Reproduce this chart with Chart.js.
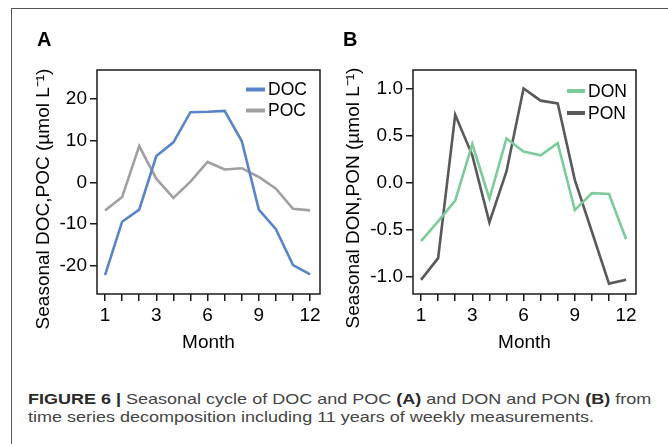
<!DOCTYPE html>
<html>
<head>
<meta charset="utf-8">
<script src="https://cdn.jsdelivr.net/npm/chart.js@4.4.1/dist/chart.umd.min.js"></script>
<style>
  html, body { margin:0; padding:0; background:#fff; }
  body { width:668px; height:444px; position:relative; overflow:hidden; font-family:"Liberation Sans", Arial, sans-serif; }
  .frame { position:absolute; left:11px; top:8px; width:670px; height:450px; border-top:1.5px solid #555; border-left:1.5px solid #555; }
  .cv { position:absolute; top:0; }
  #caption { position:absolute; left:28px; top:390px; font-size:15px; line-height:18px; color:#444; white-space:nowrap; transform:scaleX(1.2); transform-origin:0 0; }
  #caption b { color:#2a2a2a; }
</style>
</head>
<body>
<div class="frame"></div>
<canvas id="cA" class="cv" style="left:0px" width="334" height="370"></canvas>
<canvas id="cB" class="cv" style="left:334px" width="334" height="370"></canvas>
<div id="caption"><b>FIGURE 6 |</b> Seasonal cycle of DOC and POC <b>(A)</b> and DON and PON <b>(B)</b> from<br>time series decomposition including 11 years of weekly measurements.</div>
<script>
// ---- data ----
const positions = [0,1,2,3,4,5,6,7,8,9,10,11,12];
const tickLabels = ['1','','','3','','','6','','','9','','','12'];
const doc = [-22.2, -9.4, -6.5, 6.3, 9.6, 16.8, 16.9, 17.1, 9.9, -6.5, -11.2, -19.8, -22.0];
const poc = [-6.7, -3.5, 8.7, 0.9, -3.7, 0.2, 4.9, 3.1, 3.4, 1.3, -1.5, -6.3, -6.7];
const don = [-0.62, -0.41, -0.19, 0.41, -0.17, 0.47, 0.33, 0.29, 0.42, -0.29, -0.11, -0.12, -0.60];
const pon = [-1.03, -0.80, 0.72, 0.29, -0.42, 0.12, 1.0, 0.87, 0.84, 0.03, -0.52, -1.07, -1.03];
const yTicksA = [-20, -10, 0, 10, 20];
const yTicksB = [-1, -0.5, 0, 0.5, 1];

const FONT = '"Liberation Sans", Arial, sans-serif';
const INK = '#1a1a1a';

const pts = arr => arr.map((v, i) => ({x: positions[i], y: v}));

const framePlugin = {
  id: 'frameBox',
  afterDatasetsDraw(chart) {
    const {ctx, chartArea: {left, top, right, bottom}} = chart;
    ctx.save();
    ctx.strokeStyle = INK; ctx.lineWidth = 1.5;
    ctx.strokeRect(left, top, right - left, bottom - top);
    ctx.restore();
  }
};

const decoPlugin = {
  id: 'deco',
  afterDraw(chart, args, o) {
    const ctx = chart.ctx;
    ctx.save();
    ctx.fillStyle = '#000';
    ctx.font = 'bold 20px ' + FONT;
    ctx.textAlign = 'left'; ctx.textBaseline = 'middle';
    ctx.fillText(o.letter, o.letterX, o.letterY);
    ctx.font = '19px ' + FONT;
    ctx.translate(o.titleX, o.titleY);
    ctx.rotate(-Math.PI / 2);
    ctx.textAlign = 'center'; ctx.textBaseline = 'middle';
    ctx.fillStyle = '#000';
    ctx.fillText(o.title, 0, 0);
    ctx.restore();
    ctx.save();
    ctx.font = '17.5px ' + FONT;
    ctx.textBaseline = 'middle'; ctx.textAlign = 'left';
    chart.data.datasets.forEach((ds, i) => {
      const y = o.legY + i * o.legDy;
      ctx.strokeStyle = ds.borderColor; ctx.lineWidth = 4;
      ctx.beginPath(); ctx.moveTo(o.legX, y); ctx.lineTo(o.legX + o.legLen, y); ctx.stroke();
      ctx.fillStyle = '#000';
      ctx.fillText(ds.label, o.legX + o.legLen + 3, y + 1);
    });
    ctx.restore();
  }
};

function makeChart(id, sets, yTicks, ymin, ymax, fmt, yWidth, padRight, deco) {
  return new Chart(document.getElementById(id), {
    type: 'line',
    data: {
      datasets: sets.map(s => ({
        label: s.label, data: pts(s.data), borderColor: s.color,
        borderWidth: 2.6, pointRadius: 0, tension: 0, fill: false
      }))
    },
    options: {
      responsive: false, animation: false, devicePixelRatio: 1,
      layout: {padding: {top: 70, left: 0, right: padRight, bottom: 16}},
      plugins: {legend: {display: false}, tooltip: {enabled: false}, deco: deco},
      scales: {
        x: {
          type: 'linear', min: -0.47, max: 12.58,
          afterBuildTicks: ax => { ax.ticks = positions.map(v => ({value: v})); },
          afterFit: ax => { ax.height = 60; },
          ticks: {
            autoSkip: false, maxRotation: 0, padding: 3, color: '#000',
            font: {family: FONT, size: 19},
            callback: (v, i) => tickLabels[i]
          },
          grid: {drawOnChartArea: false, drawTicks: true, tickLength: 7, color: INK, lineWidth: 1.5},
          border: {display: false},
          title: {display: true, text: 'Month', color: '#000', font: {family: FONT, size: 19}, padding: {top: 0, bottom: 0}}
        },
        y: {
          type: 'linear', min: ymin, max: ymax,
          afterBuildTicks: ax => { ax.ticks = yTicks.map(v => ({value: v})); },
          afterFit: ax => { ax.width = yWidth; },
          ticks: {
            padding: 3, color: '#000',
            font: {family: FONT, size: 19},
            callback: v => fmt(v)
          },
          grid: {drawOnChartArea: false, drawTicks: true, tickLength: 7, color: INK, lineWidth: 1.5},
          border: {display: false}
        }
      }
    },
    plugins: [framePlugin, decoPlugin]
  });
}

makeChart('cA',
  [{label: 'DOC', data: doc, color: '#5b83c9'}, {label: 'POC', data: poc, color: '#a0a0a2'}],
  yTicksA, -26.7, 26.9, v => String(v), 97, 14,
  {letter: 'A', letterX: 37, letterY: 40, title: 'Seasonal DOC,POC (µmol L\u207B\u00B9)', titleX: 44, titleY: 199,
   legX: 246, legY: 89.5, legDy: 21, legLen: 19});

makeChart('cB',
  [{label: 'DON', data: don, color: '#7dca9b'}, {label: 'PON', data: pon, color: '#59595b'}],
  yTicksB, -1.18, 1.195, v => v.toFixed(1), 79, 32,
  {letter: 'B', letterX: 9, letterY: 40, title: 'Seasonal DON,PON (µmol L\u207B\u00B9)', titleX: 20, titleY: 198,
   legX: 233, legY: 91, legDy: 22, legLen: 18});
</script>
</body>
</html>
